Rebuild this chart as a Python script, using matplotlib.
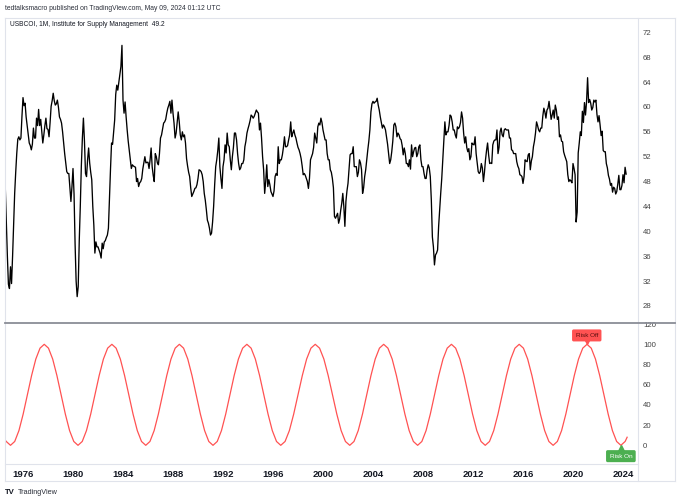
import numpy as np
import matplotlib
matplotlib.use("Agg")
import matplotlib.pyplot as plt
from matplotlib.lines import Line2D
from matplotlib.transforms import offset_copy

plt.rcParams["font.family"] = ["Liberation Sans", "DejaVu Sans"]

# USBCOI (ISM manufacturing PMI), monthly, first value = Jul 1974
pmi_start = 1974.5
pmi = [
    52.5, 47.0, 41.5, 36.0, 31.5, 30.8,                                  # 1974 H2
    34.3, 31.6, 36.0, 41.0, 46.1, 49.5, 52.5, 54.8, 55.2, 54.7, 55.0, 58.5,  # 1975
    61.5, 60.2, 60.6, 58.4, 57.0, 55.5, 54.2, 53.8, 53.1, 54.0, 56.6, 55.0,  # 1976
    55.0, 58.2, 57.0, 59.6, 57.0, 58.0, 56.0, 54.2, 55.5, 57.0, 58.2, 56.5,  # 1977
    56.4, 55.2, 57.5, 60.1, 61.0, 62.2, 61.0, 60.3, 60.5, 61.1, 60.0, 58.4,  # 1978
    58.0, 57.4, 56.0, 54.2, 52.5, 51.0, 49.6, 49.3, 49.3, 47.0, 44.8, 47.2,  # 1979
    50.1, 46.0, 38.0, 32.0, 29.5, 31.1, 38.5, 44.0, 50.5, 55.0, 58.2, 54.5,  # 1980
    49.3, 48.8, 51.5, 53.4, 51.0, 49.5, 48.3, 44.0, 41.0, 36.5, 38.3, 37.5,  # 1981
    37.5, 37.0, 36.5, 35.7, 38.1, 37.2, 38.3, 38.5, 39.0, 39.4, 40.5, 45.5,  # 1982
    50.0, 54.2, 54.0, 56.0, 57.9, 62.0, 63.5, 62.7, 64.0, 65.4, 66.5, 69.9,  # 1983
    61.1, 59.0, 60.8, 58.4, 56.3, 54.5, 53.0, 51.5, 50.1, 50.7, 50.5, 50.4,  # 1984
    50.3, 48.0, 48.5, 47.2, 47.8, 48.0, 48.5, 50.0, 51.0, 52.0, 51.0, 51.1,  # 1985
    51.1, 50.1, 51.5, 53.4, 50.4, 49.0, 48.0, 52.5, 52.0, 51.0, 50.7, 52.5,  # 1986
    55.0, 55.5, 56.5, 57.4, 57.6, 58.0, 59.0, 59.8, 60.3, 60.9, 59.0, 61.1,  # 1987
    59.0, 57.4, 55.0, 55.8, 57.5, 59.2, 57.6, 55.5, 54.7, 56.0, 55.2, 55.5,  # 1988
    54.2, 51.7, 50.5, 49.5, 48.8, 47.0, 45.6, 46.0, 46.4, 46.9, 47.0, 47.5,  # 1989
    48.5, 49.9, 49.8, 49.6, 49.1, 48.0, 46.1, 45.0, 43.5, 41.8, 41.3, 40.5,  # 1990
    39.4, 39.7, 41.5, 44.0, 47.5, 50.4, 51.5, 53.0, 55.0, 50.4, 48.5, 46.9,  # 1991
    50.4, 51.5, 53.9, 52.6, 55.8, 53.9, 53.6, 51.5, 49.9, 52.0, 53.5, 55.8,  # 1992
    55.8, 54.7, 52.5, 50.9, 49.9, 50.2, 50.9, 50.9, 51.5, 53.6, 54.5, 55.8,  # 1993
    56.5, 57.1, 57.8, 58.7, 58.5, 58.2, 58.5, 59.0, 59.5, 59.2, 59.0, 56.3,  # 1994
    57.4, 55.0, 52.0, 49.9, 46.1, 48.0, 50.7, 47.2, 48.3, 47.5, 46.4, 46.0,  # 1995
    45.6, 46.5, 48.8, 49.3, 49.0, 53.6, 50.9, 51.5, 51.5, 52.3, 53.5, 55.2,  # 1996
    53.6, 53.6, 53.8, 54.7, 55.5, 57.6, 55.2, 55.8, 56.3, 55.5, 55.0, 54.2,  # 1997
    53.5, 53.1, 52.5, 51.7, 50.5, 49.1, 49.3, 49.0, 48.5, 48.0, 46.9, 48.5,  # 1998
    51.5, 52.0, 52.5, 53.5, 55.8, 55.0, 54.2, 56.8, 57.4, 57.1, 58.2, 57.5,  # 1999
    56.3, 55.5, 54.7, 54.7, 52.5, 51.5, 51.5, 49.9, 49.5, 48.5, 47.0, 42.4,  # 2000
    42.1, 42.5, 42.9, 41.3, 42.0, 43.4, 44.5, 46.1, 44.0, 40.8, 44.8, 46.5,  # 2001
    47.7, 50.0, 52.3, 52.5, 52.5, 53.6, 50.4, 50.4, 50.4, 48.8, 49.5, 51.5,  # 2002
    51.0, 49.9, 46.1, 47.0, 48.8, 49.9, 51.5, 53.1, 54.5, 56.3, 59.2, 60.5,  # 2003
    60.9, 60.6, 60.8, 60.9, 61.4, 60.3, 59.5, 58.4, 57.5, 56.6, 57.1, 56.8,  # 2004
    56.3, 55.2, 54.0, 52.5, 50.9, 51.5, 52.8, 54.5, 57.1, 57.4, 56.8, 55.2,  # 2005
    55.8, 55.5, 54.9, 54.7, 53.8, 52.3, 53.4, 52.5, 50.9, 50.9, 50.4, 51.5,  # 2006
    50.0, 53.9, 52.0, 52.8, 53.4, 53.5, 52.0, 52.5, 53.6, 53.9, 51.5, 50.4,  # 2007
    50.4, 49.3, 48.5, 48.5, 49.9, 50.7, 50.2, 48.8, 45.0, 39.1, 37.5, 34.6,  # 2008
    36.2, 36.5, 37.0, 40.8, 43.5, 46.1, 48.5, 51.5, 54.2, 57.6, 55.5, 56.0,  # 2009
    56.0, 57.0, 58.7, 58.5, 57.6, 56.3, 56.3, 55.5, 55.0, 56.8, 56.5, 56.8,  # 2010
    57.5, 59.2, 58.2, 55.8, 54.2, 55.2, 53.5, 52.8, 53.3, 51.5, 52.0, 54.2,  # 2011
    54.0, 53.9, 55.2, 52.5, 51.0, 49.6, 49.3, 49.6, 50.9, 50.2, 48.0, 49.5,  # 2012
    51.5, 53.0, 54.2, 52.3, 50.9, 51.0, 50.9, 53.9, 54.5, 54.7, 54.7, 56.3,  # 2013
    52.5, 53.5, 56.0, 56.6, 55.5, 55.2, 56.3, 56.5, 56.3, 56.3, 56.3, 55.0,  # 2014
    55.0, 53.1, 53.0, 52.5, 52.5, 52.5, 51.2, 50.5, 50.1, 49.1, 49.0, 48.8,  # 2015
    47.7, 48.8, 51.5, 51.3, 51.2, 52.3, 52.5, 49.9, 51.3, 52.0, 53.6, 54.5,  # 2016
    55.8, 57.6, 57.0, 56.3, 56.0, 56.6, 56.6, 58.5, 59.8, 59.2, 58.2, 59.5,  # 2017
    59.8, 60.9, 59.5, 58.0, 58.7, 59.5, 58.2, 60.3, 59.5, 58.0, 58.4, 55.2,  # 2018
    55.5, 54.5, 54.4, 52.8, 52.2, 51.7, 51.2, 49.1, 48.0, 48.3, 48.1, 47.8,  # 2019
    50.9, 50.1, 49.1, 41.5, 43.1, 52.6, 54.2, 56.0, 55.4, 59.3, 57.5, 60.7,  # 2020
    58.7, 60.8, 64.7, 60.7, 61.2, 60.6, 59.5, 59.9, 61.1, 60.8, 61.1, 58.8,  # 2021
    57.6, 58.6, 57.1, 55.4, 56.1, 53.0, 52.8, 52.8, 50.9, 50.2, 49.0, 48.4,  # 2022
    47.4, 47.7, 46.3, 47.1, 46.9, 46.0, 46.4, 47.6, 49.0, 46.7, 46.7, 47.4,  # 2023
    49.1, 47.8, 50.3, 49.2,                                              # 2024
]

osc_troughs = [1975.0, 1980.4, 1985.82, 1991.2, 1996.62, 2002.14, 2007.57, 2012.98, 2018.41, 2023.83]
osc_shape = [0, 3.8, 14.6, 30.9, 50, 69.1, 85.4, 96.2, 100, 96.2, 85.4, 69.1, 50, 30.9, 14.6, 3.8]
osc_head_x = [1974.56, 1974.66]
osc_head_y = [5.5, 3.8]
osc_tail_x = [2024.17, 2024.33]
osc_tail_y = [3.8, 8.0]

risk_off_at = (2021.1, 100)
risk_on_at = (2023.83, 0)

pmi_ticks = [28, 32, 36, 40, 44, 48, 52, 56, 60, 64, 68, 72]
osc_ticks = [0, 20, 40, 60, 80, 100, 120]
year_ticks = [1976, 1980, 1984, 1988, 1992, 1996, 2000, 2004, 2008, 2012, 2016, 2020, 2024]

W, H = 680, 500
x_left, x_right = 1974.56, 2025.2


def fx(px):
    return px / W


def fy(py):
    return 1 - py / H


fig = plt.figure(figsize=(6.8, 5.0), dpi=100)
fig.patch.set_facecolor("white")

# pane rectangles (pixels): upper 19..323, lower 323..464, plot x 5..638
ax1 = fig.add_axes([fx(5), fy(323), fx(633), (323 - 19) / H])
ax2 = fig.add_axes([fx(5), fy(464), fx(633), (464 - 323) / H])

t = pmi_start + np.arange(len(pmi)) / 12.0
ax1.plot(t, pmi, color="black", lw=0.95, solid_joinstyle="round")
ax1.set_xlim(x_left, x_right)
ax1.set_ylim(25.26, 74.14)

osc_x = list(osc_head_x)
osc_y = list(osc_head_y)
for a, b in zip(osc_troughs[:-1], osc_troughs[1:]):
    for k, v in enumerate(osc_shape):
        osc_x.append(a + (b - a) * k / len(osc_shape))
        osc_y.append(v)
osc_x.append(osc_troughs[-1])
osc_y.append(0)
osc_x += osc_tail_x
osc_y += osc_tail_y
ax2.plot(osc_x, osc_y, color="#ff5252", lw=0.9)
ax2.set_xlim(x_left, x_right)
ax2.set_ylim(-18.5, 121.1)

for ax in (ax1, ax2):
    for s in ax.spines.values():
        s.set_visible(False)
    ax.yaxis.tick_right()
    ax.tick_params(axis="y", length=0, pad=3.6, labelsize=5.6, labelcolor="#444444")
    ax.set_facecolor("none")

ax1.set_xticks([])
ax1.set_yticks(pmi_ticks)
ax2.set_yticks(osc_ticks)
ax2.set_xticks(year_ticks)
ax2.set_xticklabels([str(y) for y in year_ticks], fontweight="bold")
ax2.tick_params(axis="x", length=0, pad=4, labelsize=6.8, labelcolor="#131722")
for lbl in ax2.get_yticklabels():
    lbl.set_clip_on(False)

# signal labels
off_tr = offset_copy(ax2.transData, fig=fig, y=2.2, units="points")
ax2.plot([risk_off_at[0]], [risk_off_at[1]], marker="v", ms=4, color="#ff5252",
         transform=off_tr, clip_on=False)
ax2.annotate("Risk Off", xy=risk_off_at, xytext=(0, 6.4), textcoords="offset points",
             ha="center", va="center", fontsize=4.6, color="#5a0f0f",
             bbox=dict(boxstyle="round,pad=0.55,rounding_size=0.25", fc="#ff5252", ec="none"))
on_tr = offset_copy(ax2.transData, fig=fig, y=-2.2, units="points")
ax2.plot([risk_on_at[0]], [risk_on_at[1]], marker="^", ms=4, color="#4caf50",
         transform=on_tr, clip_on=False)
ax2.annotate("Risk On", xy=risk_on_at, xytext=(0, -7.8), textcoords="offset points",
             ha="center", va="center", fontsize=4.6, color="white",
             bbox=dict(boxstyle="round,pad=0.55,rounding_size=0.25", fc="#4caf50", ec="none"))

# frame and separators
grey = "#e0e3eb"
lines = [
    ([5, 675], [18, 18], grey, 0.8),
    ([5, 675], [481, 481], grey, 0.8),
    ([5, 5], [18, 481], grey, 0.8),
    ([675, 675], [18, 481], grey, 0.8),
    ([638, 638], [18, 481], grey, 0.8),
    ([5, 638], [464, 464], grey, 0.8),
    ([5, 675], [323, 323], "#8a8d96", 1.3),
]
for xs, ys, c, lw in lines:
    fig.add_artist(Line2D([fx(v) for v in xs], [fy(v) for v in ys], color=c, lw=lw,
                          transform=fig.transFigure))

fig.text(fx(5), fy(9), "tedtalksmacro published on TradingView.com, May 09, 2024 01:12 UTC",
         fontsize=4.85, color="#2a2e39", va="center", ha="left")
fig.text(fx(10), fy(25), "USBCOI, 1M, Institute for Supply Management  49.2",
         fontsize=4.8, color="#131722", va="center", ha="left")
fig.text(fx(5), fy(492), "TV", fontsize=5.6, fontweight="heavy", color="#131722",
         va="center", ha="left")
fig.text(fx(18), fy(492), "TradingView", fontsize=5.2, color="#2a2e39", va="center", ha="left")

fig.savefig("out.png", dpi=100, facecolor="white")
